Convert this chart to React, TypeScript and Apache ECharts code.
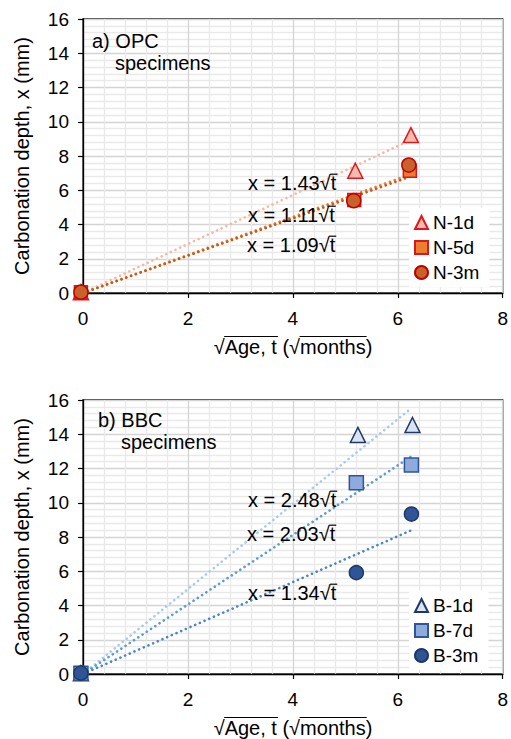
import React, { useEffect, useRef } from 'react';
import * as echarts from 'echarts';

const FONT = '"Liberation Sans", Arial, sans-serif';

// ---------- Panel a) OPC ----------
const opcNames = ['N-1d', 'N-5d', 'N-3m'];
const n1d = [[-0.04, 0.05], [5.19, 7.14], [6.25, 9.22]];
const n5d = [[-0.04, 0.05], [5.17, 5.43], [6.23, 7.14]];
const n3m = [[-0.04, 0.05], [5.16, 5.39], [6.21, 7.47]];
const trendN1d = [[0, 0], [6.25, 8.94]];
const trendN5d = [[0, 0], [6.25, 6.94]];
const trendN3m = [[0, 0], [6.25, 6.81]];
const opcEquations = ['x = 1.43√t', 'x = 1.11√t', 'x = 1.09√t'];

// ---------- Panel b) BBC ----------
const bbcNames = ['B-1d', 'B-7d', 'B-3m'];
const b1d = [[-0.04, 0.05], [5.24, 13.96], [6.28, 14.54]];
const b7d = [[-0.04, 0.05], [5.21, 11.17], [6.26, 12.2]];
const b3m = [[-0.04, 0.05], [5.21, 5.92], [6.26, 9.34]];
const trendB1d = [[0, 0], [6.25, 15.5]];
const trendB7d = [[0, 0], [6.25, 12.69]];
const trendB3m = [[0, 0], [6.25, 8.38]];
const bbcEquations = ['x = 2.48√t', 'x = 2.03√t', 'x = 1.34√t'];

const xTicks = { min: 0, max: 8, interval: 2 };
const yTicks = { min: 0, max: 16, interval: 2 };
const xTitle = '√Age, t (√months)';
const yTitle = 'Carbonation depth, x (mm)';

export default function App() {
  const ref = useRef<HTMLDivElement>(null);
  useEffect(() => {
    if (!ref.current) return;
    const chart = echarts.init(ref.current, undefined, { renderer: 'svg' });
    const cnv = document.createElement('canvas');
    const ctx = cnv.getContext('2d')!;
    const tw = (s: string, fs: number) => {
      ctx.font = `${fs}px "Liberation Sans"`;
      return ctx.measureText(s).width;
    };

    const grids = [
      { left: 83, top: 19, width: 420, height: 274 },
      { left: 83, top: 400, width: 420, height: 274 },
    ];

    const xAxisFor = (gi: number) => ({
      gridIndex: gi,
      type: 'value',
      ...xTicks,
      axisLine: { show: true, onZero: false, lineStyle: { color: '#000', width: 1.3 } },
      axisTick: { show: true, inside: false, length: 5, lineStyle: { color: '#000', width: 1.2 } },
      axisLabel: { fontSize: 19, color: '#000', margin: 16, fontFamily: FONT },
      splitLine: { show: true, lineStyle: { color: '#d4d4d4', width: 1.3 } },
      minorTick: { show: false, splitNumber: 5 },
      minorSplitLine: { show: true, lineStyle: { color: '#e9e9e9', width: 1.3 } },
    });
    const yAxisFor = (gi: number) => ({
      gridIndex: gi,
      type: 'value',
      ...yTicks,
      name: yTitle,
      nameLocation: 'middle',
      nameGap: 51,
      nameTextStyle: { fontSize: 20, color: '#000', fontFamily: FONT },
      axisLine: { show: true, onZero: false, lineStyle: { color: '#000', width: 1.3 } },
      axisTick: { show: true, inside: false, length: 5, lineStyle: { color: '#000', width: 1.2 } },
      axisLabel: { fontSize: 19, color: '#000', margin: 14, fontFamily: FONT },
      splitLine: { show: true, lineStyle: { color: '#d4d4d4', width: 1.3 } },
      minorTick: { show: false, splitNumber: 5 },
      minorSplitLine: { show: true, lineStyle: { color: '#e9e9e9', width: 1.3 } },
    });

    const trend = (gi: number, data: number[][], color: string) => ({
      type: 'line',
      xAxisIndex: gi,
      yAxisIndex: gi,
      data,
      symbol: 'none',
      silent: true,
      z: 2,
      lineStyle: { color, width: 2.6, type: [0.1, 5], cap: 'round' },
    });
    const scat = (
      gi: number,
      name: string,
      data: number[][],
      symbol: string,
      size: number,
      fill: string,
      border: string
    ) => ({
      type: 'scatter',
      name,
      xAxisIndex: gi,
      yAxisIndex: gi,
      data,
      symbol,
      symbolSize: size,
      clip: false,
      z: 3,
      itemStyle: { color: fill, borderColor: border, borderWidth: 1.5, opacity: 1 },
    });

    const series = [
      trend(0, trendN1d, '#F5B9A3'),
      trend(0, trendN5d, '#E0803F'),
      trend(0, trendN3m, '#C55A11'),
      scat(0, opcNames[0], n1d, 'triangle', 15, '#F6BBAE', '#E0181B'),
      scat(0, opcNames[1], n5d, 'rect', 13, '#ED7D31', '#D7191C'),
      scat(0, opcNames[2], n3m, 'circle', 14, '#C8622A', '#C00000'),
      trend(1, trendB1d, '#A9CBEA'),
      trend(1, trendB7d, '#5B9BD5'),
      trend(1, trendB3m, '#4A84C4'),
      scat(1, bbcNames[0], b1d, 'triangle', 15, '#DAE3F3', '#1F3864'),
      scat(1, bbcNames[1], b7d, 'rect', 14, '#8FAADC', '#2F5597'),
      scat(1, bbcNames[2], b3m, 'circle', 14, '#2F5597', '#1F3864'),
    ];

    const legendFor = (names: string[], top: number) => ({
      data: names,
      left: 409,
      top,
      orient: 'vertical',
      itemWidth: 13,
      itemHeight: 13,
      itemGap: 6,
      padding: [5, 10, 5, 5],
      backgroundColor: '#fff',
      textStyle: { fontSize: 19, color: '#000', fontFamily: FONT },
      selectedMode: false,
    });

    const elements: any[] = [];
    const text = (s: string, x: number, y: number, fs: number, align = 'left') => {
      elements.push({
        type: 'text',
        x,
        y,
        z: 10,
        style: {
          text: s,
          fill: '#000',
          fontSize: fs,
          fontFamily: FONT,
          align,
          verticalAlign: 'middle',
          textAlign: align,
          textVerticalAlign: 'middle',
        },
      });
    };
    const overline = (x1: number, x2: number, y: number) => {
      elements.push({
        type: 'line',
        z: 10,
        shape: { x1, y1: y, x2, y2: y },
        style: { stroke: '#000', lineWidth: 1.2 },
      });
    };
    const equation = (s: string, x: number, y: number) => {
      const fs = 20;
      text(s, x, y, fs);
      const idx = s.indexOf('√');
      overline(x + tw(s.slice(0, idx + 1), fs) - 0.5, x + tw(s, fs) + 1, y - 8.8);
    };
    const axisTitle = (cx: number, y: number) => {
      const fs = 20;
      text(xTitle, cx, y, fs, 'center');
      const left = cx - tw(xTitle, fs) / 2;
      const i1 = xTitle.indexOf('√');
      const i2 = xTitle.indexOf(' (');
      const i3 = xTitle.lastIndexOf('√');
      const i4 = xTitle.lastIndexOf(')');
      overline(left + tw(xTitle.slice(0, i1 + 1), fs) - 0.5, left + tw(xTitle.slice(0, i2), fs) + 1, y - 10.5);
      overline(left + tw(xTitle.slice(0, i3 + 1), fs) - 0.5, left + tw(xTitle.slice(0, i4), fs) + 1, y - 10.5);
    };

    // Panel labels
    text('a) OPC', 92, 41, 20);
    text('specimens', 115, 63, 20);
    text('b) BBC', 98, 420, 20);
    text('specimens', 121, 442, 20);

    equation(opcEquations[0], 248, 183);
    equation(opcEquations[1], 248, 215);
    equation(opcEquations[2], 247, 245);
    equation(bbcEquations[0], 248, 500);
    equation(bbcEquations[1], 247, 534);
    equation(bbcEquations[2], 248, 593);

    axisTitle(293, 347);
    axisTitle(293, 728);

    chart.setOption({
      animation: false,
      backgroundColor: '#fff',
      textStyle: { fontFamily: FONT },
      grid: grids.map((g) => ({ ...g, show: true, borderColor: '#000', borderWidth: 1.3, backgroundColor: 'transparent' })),
      xAxis: [xAxisFor(0), xAxisFor(1)],
      yAxis: [yAxisFor(0), yAxisFor(1)],
      legend: [legendFor(opcNames, 208), legendFor(bbcNames, 591)],
      series,
      graphic: { elements },
    } as any);
    return () => chart.dispose();
  }, []);
  return (
    <div
      ref={ref}
      style={{ position: 'absolute', left: 0, top: 0, width: 511, height: 739 }}
    />
  );
}
